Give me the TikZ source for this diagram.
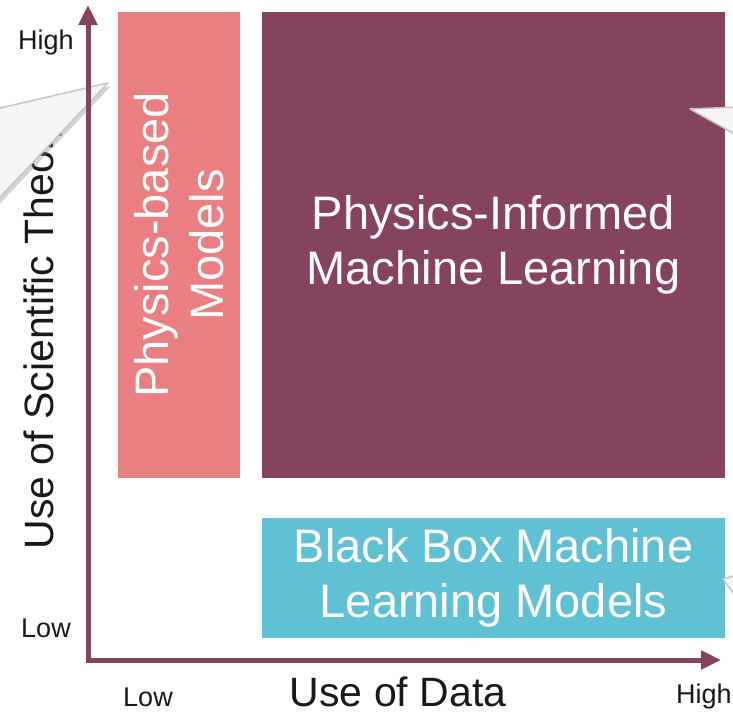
\documentclass[tikz,border=0pt]{standalone}
\usepackage{fontspec}
\setmainfont{Liberation Sans}
\usetikzlibrary{arrows.meta,shadows}

\definecolor{plum}{HTML}{86435F}
\definecolor{salmon}{HTML}{E97F81}
\definecolor{sky}{HTML}{60C1D4}

\begin{document}
\begin{tikzpicture}
  [x=1pt, y=-1pt,
   box/.style={inner sep=0pt, text=white, align=center,
     font=\fontsize{47}{55}\selectfont},
   axis/.style={draw=plum, line width=5pt,
     {Triangle[length=20pt,width=18pt]}-{Triangle[length=20pt,width=18pt]}},
   tick label/.style={font=\fontsize{27}{30}\selectfont, text=black!90},
   axis label/.style={font=\fontsize{41}{45}\selectfont, text=black!90},
   callout/.style={fill=gray!8, draw=gray!45, line width=1.5pt,
     line join=round,
     drop shadow={opacity=0.35, shadow xshift=3pt, shadow yshift=-3pt}}, ]

  \clip (0,0) rectangle (733,715);

  \node[box, fill=salmon, minimum width=466pt, minimum height=122pt,
    rotate=90] (pbm) at (179,245) {Physics-based\\Models};

  \node[box, fill=plum, minimum width=463pt, minimum height=466pt,
    text depth=10pt] (piml) at (493.5,245) {Physics-Informed\\Machine Learning};

  \node[box, fill=sky, minimum width=463pt, minimum height=120pt,
    text depth=10pt] (bbml) at (493.5,578) {Black Box Machine\\Learning Models};

  \node[axis label, rotate=90] (ylab) at (43,333) {Use of Scientific Theory};
  \node[axis label] (xlab) at (398,692) {Use of Data};

  \draw[callout] (108,83) -- (-30,115) -- (-30,229) -- cycle;
  \draw[callout] (690,109) -- (760,106) -- (760,148) -- cycle;
  \draw[callout] (723,579) -- (760,568) -- (760,631) -- cycle;

  \coordinate (origin) at (88,660);
  \coordinate (ytip) at (88,5);
  \coordinate (xtip) at (721,660);
  \draw[axis] (ytip) -- (origin) -- (xtip);

  \node[tick label] (yhigh) at (46,43) {High};
  \node[tick label] (ylow) at (46,628) {Low};
  \node[tick label] (xlow) at (148,697) {Low};
  \node[tick label] (xhigh) at (704,697) {High};

\end{tikzpicture}
\end{document}
